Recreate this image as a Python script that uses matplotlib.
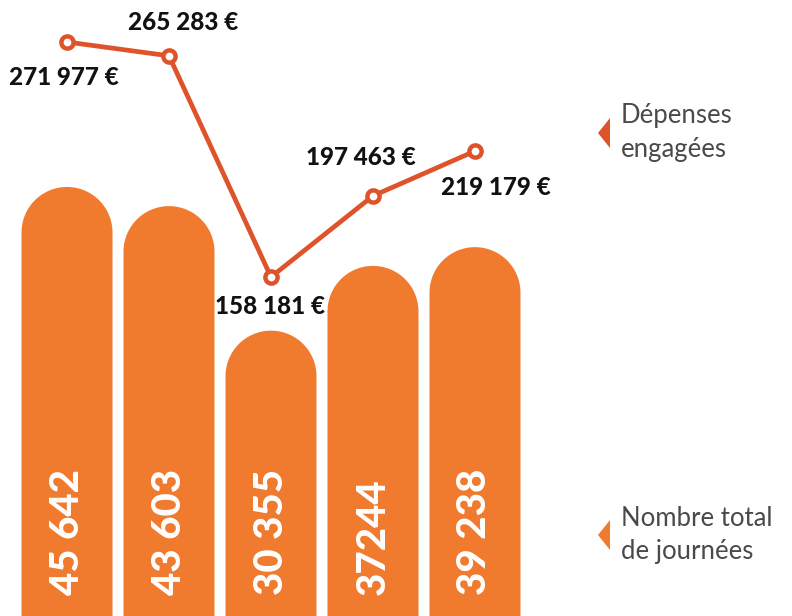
import numpy as np
import matplotlib
matplotlib.use("Agg")
import matplotlib.pyplot as plt
from matplotlib.patches import Polygon

# Data
categories = ["1", "2", "3", "4", "5"]
journees = [45642, 43603, 30355, 37244, 39238]
journees_labels = ["45 642", "43 603", "30 355", "37244", "39 238"]
depenses = [271977, 265283, 158181, 197463, 219179]
depenses_labels = ["271 977 €", "265 283 €", "158 181 €", "197 463 €", "219 179 €"]
legend_labels = ["Dépenses\nengagées", "Nombre total\nde journées"]

BAR_COLOR = "#F07A2E"
LINE_COLOR = "#DF532B"

W, H = 792, 616
fig = plt.figure(figsize=(W / 100, H / 100), dpi=100)
ax = fig.add_axes([0, 0, 1, 1])
ax.set_axis_off()

x = list(range(len(categories)))
xlim = (-0.657, 7.108)
ylim = (0, 65530)
ax.set_xlim(*xlim)
ax.set_ylim(*ylim)

bar_w = 0.892
px_per_x = W / (xlim[1] - xlim[0])
px_per_y = H / (ylim[1] - ylim[0])
r_px = bar_w * px_per_x / 2
r_y = r_px / px_per_y

theta = np.linspace(0, np.pi, 60)
for xi, v, lab in zip(x, journees, journees_labels):
    cy = v - r_y
    arc_x = xi + (bar_w / 2) * np.cos(theta)
    arc_y = cy + r_y * np.sin(theta)
    pts = [(xi + bar_w / 2, -1000)] + list(zip(arc_x, arc_y)) + [(xi - bar_w / 2, -1000)]
    ax.add_patch(Polygon(pts, closed=True, color=BAR_COLOR, linewidth=0, zorder=1))
    ax.text(xi, 21 / px_per_y, lab, rotation=90, ha="center", va="bottom",
            color="white", fontsize=29, fontweight=900, family="Lato", zorder=3)

# Line on twin axis
ax2 = ax.twinx()
ax2.set_axis_off()
ax2.set_xlim(*xlim)
ax2.set_ylim(-5957, 292316)
ax2.plot(x, depenses, color=LINE_COLOR, linewidth=3.4, zorder=4,
         marker="o", markersize=8.8, markerfacecolor="white",
         markeredgecolor=LINE_COLOR, markeredgewidth=3.2)

offsets = [(-3, -35), (14, 33), (-1, -29), (-12, 38), (21, -36)]
for xi, v, lab, (dx, dy) in zip(x, depenses, depenses_labels, offsets):
    ax2.annotate(lab, (xi, v), xytext=(dx, dy), textcoords="offset pixels",
                 ha="center", va="center", fontsize=17.5, fontweight=900,
                 family="Lato", color="#111111", zorder=5)

# Legend
leg_items = [(legend_labels[0], LINE_COLOR, 133), (legend_labels[1], BAR_COLOR, 535)]
for lab, col, yc in leg_items:
    tri = Polygon([(598 / W, 1 - yc / H), (610 / W, 1 - (yc - 15) / H), (610 / W, 1 - (yc + 15) / H)],
                  closed=True, transform=fig.transFigure, color=col, linewidth=0)
    fig.patches.append(tri)
    fig.text(621 / W, 1 - yc / H, lab, ha="left", va="center", fontsize=18.5,
             family="Lato", color="#4a4a4a", linespacing=1.45)

fig.savefig("out.png", dpi=100)
